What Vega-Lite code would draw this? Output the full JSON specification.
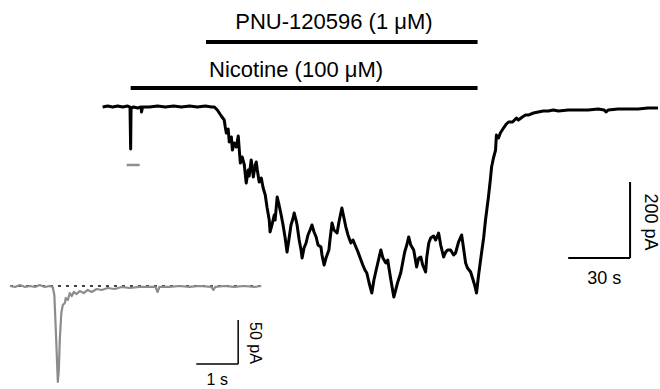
{
  "$schema": "https://vega.github.io/schema/vega-lite/v6.json",
  "width": 660,
  "height": 389,
  "padding": 0,
  "autosize": {"type": "fit", "contains": "padding"},
  "background": "white",
  "config": {"view": {"stroke": null}},
  "datasets": {
    "main": [
      {"t": -1.0, "I": 0}, {"t": 1.4, "I": 2.6}, {"t": 3.8, "I": 0}, {"t": 6.2, "I": 2.6}, {"t": 8.6, "I": 0}, {"t": 11.0, "I": 2.6},
      {"t": 12.1, "I": 0}, {"t": 12.4, "I": -110.5}, {"t": 12.6, "I": -2.6}, {"t": 13.8, "I": 0}, {"t": 15.7, "I": -2.6},
      {"t": 17.4, "I": 0}, {"t": 17.6, "I": -13.2}, {"t": 18.1, "I": 0}, {"t": 21.4, "I": 0}, {"t": 25.2, "I": 2.6},
      {"t": 29.0, "I": 0}, {"t": 32.9, "I": 2.6}, {"t": 36.7, "I": 0}, {"t": 40.5, "I": 2.6}, {"t": 44.3, "I": 0},
      {"t": 48.1, "I": 2.6}, {"t": 51.0, "I": 0}, {"t": 52.4, "I": 0},
      {"t": 53.8, "I": -7.9}, {"t": 55.7, "I": -23.7}, {"t": 57.1, "I": -34.2}, {"t": 57.6, "I": -52.6}, {"t": 58.1, "I": -68.4},
      {"t": 59.0, "I": -57.9}, {"t": 59.5, "I": -92.1}, {"t": 60.5, "I": -78.9}, {"t": 61.0, "I": -113.2}, {"t": 61.9, "I": -94.7},
      {"t": 62.9, "I": -105.3}, {"t": 63.8, "I": -76.3}, {"t": 64.3, "I": -113.2}, {"t": 64.8, "I": -147.4}, {"t": 65.7, "I": -131.6},
      {"t": 66.7, "I": -152.6}, {"t": 67.6, "I": -200}, {"t": 68.6, "I": -165.8}, {"t": 69.0, "I": -181.6}, {"t": 70.0, "I": -139.5},
      {"t": 71.0, "I": -184.2}, {"t": 71.9, "I": -152.6}, {"t": 72.4, "I": -144.7}, {"t": 72.9, "I": -165.8}, {"t": 73.8, "I": -197.4},
      {"t": 74.8, "I": -186.8}, {"t": 75.7, "I": -213.2}, {"t": 76.7, "I": -231.6}, {"t": 77.6, "I": -265.8}, {"t": 78.6, "I": -297.4},
      {"t": 79.0, "I": -328.9}, {"t": 80.0, "I": -307.9}, {"t": 81.0, "I": -284.2}, {"t": 81.4, "I": -297.4}, {"t": 82.4, "I": -236.8},
      {"t": 83.3, "I": -257.9}, {"t": 84.3, "I": -284.2}, {"t": 85.2, "I": -310.5}, {"t": 86.2, "I": -344.7}, {"t": 87.1, "I": -381.6},
      {"t": 88.1, "I": -344.7}, {"t": 89.0, "I": -310.5}, {"t": 90.0, "I": -292.1}, {"t": 90.5, "I": -278.9}, {"t": 91.4, "I": -297.4},
      {"t": 91.9, "I": -310.5}, {"t": 92.9, "I": -350}, {"t": 93.8, "I": -376.3}, {"t": 94.3, "I": -397.4}, {"t": 95.2, "I": -371.1},
      {"t": 96.2, "I": -357.9}, {"t": 97.1, "I": -336.8}, {"t": 98.1, "I": -323.7}, {"t": 99.0, "I": -310.5}, {"t": 100.0, "I": -328.9},
      {"t": 101.0, "I": -342.1}, {"t": 101.9, "I": -363.2}, {"t": 103.3, "I": -368.4}, {"t": 103.8, "I": -389.5}, {"t": 104.8, "I": -415.8},
      {"t": 105.7, "I": -397.4}, {"t": 107.1, "I": -376.3}, {"t": 107.6, "I": -350}, {"t": 108.6, "I": -305.3}, {"t": 109.5, "I": -323.7},
      {"t": 111.0, "I": -331.6}, {"t": 111.9, "I": -302.6}, {"t": 113.3, "I": -265.8}, {"t": 114.3, "I": -292.1}, {"t": 115.2, "I": -315.8},
      {"t": 116.2, "I": -336.8}, {"t": 117.6, "I": -357.9}, {"t": 118.6, "I": -350}, {"t": 120.0, "I": -368.4}, {"t": 121.0, "I": -381.6},
      {"t": 122.4, "I": -402.6}, {"t": 123.3, "I": -415.8}, {"t": 124.3, "I": -428.9}, {"t": 125.2, "I": -436.8}, {"t": 126.2, "I": -460.5},
      {"t": 127.6, "I": -489.5}, {"t": 128.6, "I": -455.3}, {"t": 130.0, "I": -421.1}, {"t": 131.0, "I": -397.4}, {"t": 131.9, "I": -376.3},
      {"t": 132.9, "I": -397.4}, {"t": 134.3, "I": -410.5}, {"t": 135.2, "I": -402.6}, {"t": 135.7, "I": -421.1}, {"t": 136.7, "I": -455.3},
      {"t": 138.1, "I": -500}, {"t": 139.0, "I": -481.6}, {"t": 140.0, "I": -460.5}, {"t": 141.4, "I": -436.8}, {"t": 142.4, "I": -407.9},
      {"t": 143.3, "I": -381.6}, {"t": 144.3, "I": -363.2}, {"t": 145.2, "I": -342.1}, {"t": 146.2, "I": -363.2}, {"t": 147.6, "I": -376.3},
      {"t": 148.6, "I": -407.9}, {"t": 149.0, "I": -421.1}, {"t": 150.0, "I": -397.4}, {"t": 151.0, "I": -394.7}, {"t": 151.9, "I": -415.8},
      {"t": 153.3, "I": -434.2}, {"t": 153.8, "I": -397.4}, {"t": 154.8, "I": -357.9}, {"t": 155.7, "I": -344.7}, {"t": 157.1, "I": -339.5},
      {"t": 158.1, "I": -350}, {"t": 159.5, "I": -331.6}, {"t": 160.5, "I": -363.2}, {"t": 161.9, "I": -394.7}, {"t": 162.9, "I": -381.6},
      {"t": 163.8, "I": -376.3}, {"t": 165.2, "I": -376.3}, {"t": 166.7, "I": -389.5}, {"t": 167.6, "I": -384.2}, {"t": 169.0, "I": -355.3},
      {"t": 170.5, "I": -336.8}, {"t": 171.4, "I": -371.1}, {"t": 172.4, "I": -410.5}, {"t": 173.3, "I": -423.7}, {"t": 174.8, "I": -434.2},
      {"t": 175.7, "I": -450}, {"t": 176.7, "I": -468.4}, {"t": 177.6, "I": -489.5}, {"t": 178.6, "I": -442.1}, {"t": 180.0, "I": -384.2},
      {"t": 181.0, "I": -344.7}, {"t": 181.9, "I": -297.4}, {"t": 183.3, "I": -236.8}, {"t": 184.3, "I": -186.8}, {"t": 184.8, "I": -157.9},
      {"t": 185.7, "I": -134.2}, {"t": 186.7, "I": -113.2}, {"t": 187.1, "I": -73.7}, {"t": 188.1, "I": -81.6}, {"t": 189.0, "I": -68.4},
      {"t": 190.5, "I": -55.3}, {"t": 191.9, "I": -44.7}, {"t": 192.9, "I": -39.5}, {"t": 194.8, "I": -39.5}, {"t": 196.7, "I": -28.9},
      {"t": 197.6, "I": -34.2}, {"t": 199.5, "I": -26.3}, {"t": 201.0, "I": -21.1}, {"t": 202.4, "I": -21.1}, {"t": 204.8, "I": -15.8},
      {"t": 207.1, "I": -13.2}, {"t": 209.5, "I": -10.5}, {"t": 211.9, "I": -10.5}, {"t": 214.3, "I": -7.9}, {"t": 216.7, "I": -10.5},
      {"t": 221.4, "I": -7.9}, {"t": 226.2, "I": -7.9}, {"t": 231.0, "I": -7.9}, {"t": 235.7, "I": -5.3}, {"t": 238.6, "I": -7.9},
      {"t": 239.5, "I": -13.2}, {"t": 240.5, "I": -7.9}, {"t": 245.2, "I": -5.3}, {"t": 250.0, "I": -5.3}, {"t": 254.8, "I": -5.3},
      {"t": 259.5, "I": -2.6}, {"t": 264.3, "I": -2.6}
    ],
    "inset": [
      {"t": 0, "I": 0}, {"t": 0.12, "I": -1.1}, {"t": 0.24, "I": 1.1}, {"t": 0.36, "I": -1.1}, {"t": 0.48, "I": 0},
      {"t": 0.6, "I": -1.1}, {"t": 0.71, "I": 1.1}, {"t": 0.83, "I": -1.1}, {"t": 0.95, "I": 0}, {"t": 1.02, "I": -1.1},
      {"t": 1.06, "I": -10.2}, {"t": 1.095, "I": -50}, {"t": 1.143, "I": -109.1}, {"t": 1.167, "I": -95.5}, {"t": 1.19, "I": -61.4},
      {"t": 1.226, "I": -30.7}, {"t": 1.262, "I": -21.6}, {"t": 1.31, "I": -19.3}, {"t": 1.333, "I": -13.6}, {"t": 1.381, "I": -15.9},
      {"t": 1.429, "I": -8}, {"t": 1.476, "I": -11.4}, {"t": 1.524, "I": -6.8}, {"t": 1.595, "I": -9.1}, {"t": 1.667, "I": -5.7},
      {"t": 1.762, "I": -8}, {"t": 1.857, "I": -4.5}, {"t": 1.952, "I": -6.8}, {"t": 2.071, "I": -3.4}, {"t": 2.19, "I": -4.5},
      {"t": 2.333, "I": -2.3}, {"t": 2.5, "I": -3.4}, {"t": 2.667, "I": -1.1}, {"t": 2.857, "I": -2.3}, {"t": 3.095, "I": -1.1},
      {"t": 3.333, "I": -1.1}, {"t": 3.476, "I": -1.1}, {"t": 3.524, "I": -6.8}, {"t": 3.571, "I": -1.1}, {"t": 3.81, "I": -1.1},
      {"t": 4.048, "I": 0}, {"t": 4.286, "I": -1.1}, {"t": 4.524, "I": 0}, {"t": 4.81, "I": -1.1}, {"t": 4.857, "I": -4.5},
      {"t": 4.905, "I": -1.1}, {"t": 5.119, "I": 0}, {"t": 5.357, "I": -1.1}, {"t": 5.595, "I": 0}, {"t": 5.833, "I": -1.1},
      {"t": 6.0, "I": 0}
    ]
  },
  "layer": [
    {
      "layer": [
        {
          "data": {"name": "main"},
          "mark": {"type": "line", "color": "#000000", "strokeWidth": 3, "strokeJoin": "round"},
          "encoding": {
            "x": {"field": "t", "type": "quantitative", "axis": null, "scale": {"domain": [-50, 264.29], "nice": false, "zero": false}},
            "y": {"field": "I", "type": "quantitative", "axis": null, "scale": {"domain": [-742.1, 281.6], "nice": false, "zero": false}}
          }
        },
        {
          "data": {"values": [{"drug": "Nicotine (100 μM)", "start": 12.4, "end": 178.1}]},
          "mark": {"type": "rule", "color": "#000000", "strokeWidth": 4},
          "encoding": {
            "x": {"field": "start", "type": "quantitative", "axis": null, "scale": {"domain": [-50, 264.29], "nice": false, "zero": false}},
            "x2": {"field": "end"},
            "y": {"datum": 50, "type": "quantitative", "axis": null, "scale": {"domain": [-742.1, 281.6], "nice": false, "zero": false}}
          }
        },
        {
          "data": {"values": [{"drug": "PNU-120596 (1 μM)", "start": 48.4, "end": 178.1}]},
          "mark": {"type": "rule", "color": "#000000", "strokeWidth": 4},
          "encoding": {
            "x": {"field": "start", "type": "quantitative", "axis": null, "scale": {"domain": [-50, 264.29], "nice": false, "zero": false}},
            "x2": {"field": "end"},
            "y": {"datum": 171, "type": "quantitative", "axis": null, "scale": {"domain": [-742.1, 281.6], "nice": false, "zero": false}}
          }
        },
        {
          "data": {"values": [{"label": "PNU-120596 (1 μM)"}]},
          "mark": {"type": "text", "font": "Liberation Sans", "fontSize": 22, "align": "center", "baseline": "alphabetic", "color": "#000000"},
          "encoding": {
            "x": {"datum": 109.5, "type": "quantitative", "axis": null, "scale": {"domain": [-50, 264.29], "nice": false, "zero": false}},
            "y": {"datum": 205.3, "type": "quantitative", "axis": null, "scale": {"domain": [-742.1, 281.6], "nice": false, "zero": false}},
            "text": {"field": "label"}
          }
        },
        {
          "data": {"values": [{"label": "Nicotine (100 μM)"}]},
          "mark": {"type": "text", "font": "Liberation Sans", "fontSize": 22, "align": "center", "baseline": "alphabetic", "color": "#000000"},
          "encoding": {
            "x": {"datum": 91.4, "type": "quantitative", "axis": null, "scale": {"domain": [-50, 264.29], "nice": false, "zero": false}},
            "y": {"datum": 78.9, "type": "quantitative", "axis": null, "scale": {"domain": [-742.1, 281.6], "nice": false, "zero": false}},
            "text": {"field": "label"}
          }
        },
        {
          "data": {"values": [{"window": "inset"}]},
          "mark": {"type": "rule", "color": "#8f8f8f", "strokeWidth": 2.5},
          "encoding": {
            "x": {"datum": 10.5, "type": "quantitative", "axis": null, "scale": {"domain": [-50, 264.29], "nice": false, "zero": false}},
            "x2": {"datum": 16.7},
            "y": {"datum": -152.6, "type": "quantitative", "axis": null, "scale": {"domain": [-742.1, 281.6], "nice": false, "zero": false}}
          }
        },
        {
          "data": {"values": [{"bar": "30 s"}]},
          "mark": {"type": "rule", "color": "#000000", "strokeWidth": 2},
          "encoding": {
            "x": {"datum": 221.4, "type": "quantitative", "axis": null, "scale": {"domain": [-50, 264.29], "nice": false, "zero": false}},
            "x2": {"datum": 250.95},
            "y": {"datum": -397.4, "type": "quantitative", "axis": null, "scale": {"domain": [-742.1, 281.6], "nice": false, "zero": false}}
          }
        },
        {
          "data": {"values": [{"bar": "200 pA"}]},
          "mark": {"type": "rule", "color": "#000000", "strokeWidth": 2},
          "encoding": {
            "x": {"datum": 250.95, "type": "quantitative", "axis": null, "scale": {"domain": [-50, 264.29], "nice": false, "zero": false}},
            "y": {"datum": -397.4, "type": "quantitative", "axis": null, "scale": {"domain": [-742.1, 281.6], "nice": false, "zero": false}},
            "y2": {"datum": -197.4}
          }
        },
        {
          "data": {"values": [{"label": "30 s"}]},
          "mark": {"type": "text", "font": "Liberation Sans", "fontSize": 18, "align": "center", "baseline": "alphabetic", "color": "#000000"},
          "encoding": {
            "x": {"datum": 238.6, "type": "quantitative", "axis": null, "scale": {"domain": [-50, 264.29], "nice": false, "zero": false}},
            "y": {"datum": -465.8, "type": "quantitative", "axis": null, "scale": {"domain": [-742.1, 281.6], "nice": false, "zero": false}},
            "text": {"field": "label"}
          }
        },
        {
          "data": {"values": [{"label": "200 pA"}]},
          "mark": {"type": "text", "font": "Liberation Sans", "fontSize": 18, "align": "center", "baseline": "middle", "angle": 90, "color": "#000000"},
          "encoding": {
            "x": {"datum": 260.5, "type": "quantitative", "axis": null, "scale": {"domain": [-50, 264.29], "nice": false, "zero": false}},
            "y": {"datum": -302.6, "type": "quantitative", "axis": null, "scale": {"domain": [-742.1, 281.6], "nice": false, "zero": false}},
            "text": {"field": "label"}
          }
        }
      ]
    },
    {
      "layer": [
        {
          "data": {"values": [{"line": "baseline"}]},
          "mark": {"type": "rule", "color": "#000000", "strokeWidth": 1.5, "strokeDash": [3, 5]},
          "encoding": {
            "x": {"datum": 0, "type": "quantitative", "axis": null, "scale": {"domain": [-0.238, 15.476], "nice": false, "zero": false}},
            "x2": {"datum": 6},
            "y": {"datum": 0, "type": "quantitative", "axis": null, "scale": {"domain": [-117.05, 325], "nice": false, "zero": false}}
          }
        },
        {
          "data": {"name": "inset"},
          "mark": {"type": "line", "color": "#8c8c8c", "strokeWidth": 2.2, "strokeJoin": "round"},
          "encoding": {
            "x": {"field": "t", "type": "quantitative", "axis": null, "scale": {"domain": [-0.238, 15.476], "nice": false, "zero": false}},
            "y": {"field": "I", "type": "quantitative", "axis": null, "scale": {"domain": [-117.05, 325], "nice": false, "zero": false}}
          }
        },
        {
          "data": {"values": [{"bar": "1 s"}]},
          "mark": {"type": "rule", "color": "#000000", "strokeWidth": 1.5},
          "encoding": {
            "x": {"datum": 4.45, "type": "quantitative", "axis": null, "scale": {"domain": [-0.238, 15.476], "nice": false, "zero": false}},
            "x2": {"datum": 5.45},
            "y": {"datum": -88.6, "type": "quantitative", "axis": null, "scale": {"domain": [-117.05, 325], "nice": false, "zero": false}}
          }
        },
        {
          "data": {"values": [{"bar": "50 pA"}]},
          "mark": {"type": "rule", "color": "#000000", "strokeWidth": 1.5},
          "encoding": {
            "x": {"datum": 5.45, "type": "quantitative", "axis": null, "scale": {"domain": [-0.238, 15.476], "nice": false, "zero": false}},
            "y": {"datum": -88.6, "type": "quantitative", "axis": null, "scale": {"domain": [-117.05, 325], "nice": false, "zero": false}},
            "y2": {"datum": -38.6}
          }
        },
        {
          "data": {"values": [{"label": "1 s"}]},
          "mark": {"type": "text", "font": "Liberation Sans", "fontSize": 16, "align": "center", "baseline": "alphabetic", "color": "#000000"},
          "encoding": {
            "x": {"datum": 4.95, "type": "quantitative", "axis": null, "scale": {"domain": [-0.238, 15.476], "nice": false, "zero": false}},
            "y": {"datum": -112.5, "type": "quantitative", "axis": null, "scale": {"domain": [-117.05, 325], "nice": false, "zero": false}},
            "text": {"field": "label"}
          }
        },
        {
          "data": {"values": [{"label": "50 pA"}]},
          "mark": {"type": "text", "font": "Liberation Sans", "fontSize": 16, "align": "center", "baseline": "middle", "angle": 90, "color": "#000000"},
          "encoding": {
            "x": {"datum": 5.857, "type": "quantitative", "axis": null, "scale": {"domain": [-0.238, 15.476], "nice": false, "zero": false}},
            "y": {"datum": -64.8, "type": "quantitative", "axis": null, "scale": {"domain": [-117.05, 325], "nice": false, "zero": false}},
            "text": {"field": "label"}
          }
        }
      ]
    }
  ],
  "resolve": {"scale": {"x": "independent", "y": "independent"}}
}
